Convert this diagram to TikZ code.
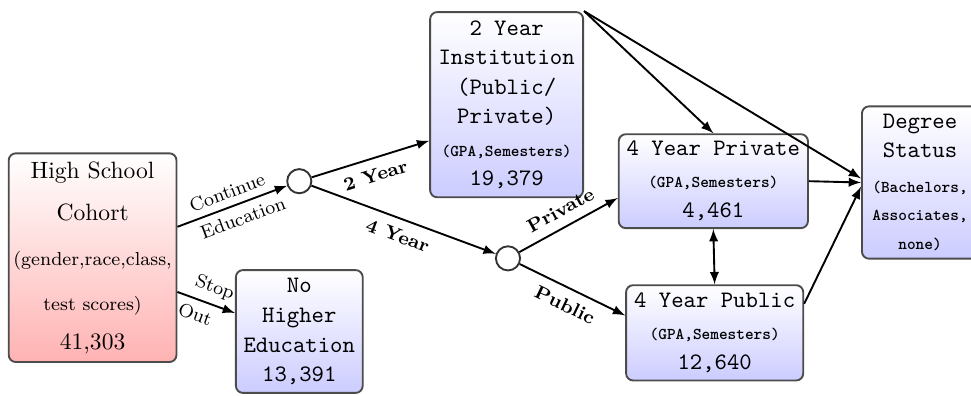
\documentclass[tikz,border=0pt]{standalone}
\usepackage{tikz}
\usetikzlibrary{calc,positioning,arrows}

\tikzset{
  stagebox/.style={draw=black!70, thick, rounded corners=3pt, top color=white,
    bottom color=blue!20, align=center, font=\ttfamily, inner sep=2pt},
  cohortbox/.style={stagebox, bottom color=red!30, font=\rmfamily},
  choice/.style={circle, draw=black!80, thick, fill=white, minimum size=0.36cm, inner sep=0pt},
  flow/.style={thick, -latex},
  lbl/.style={font=\footnotesize, sloped, inner sep=3pt},
  blbl/.style={font=\footnotesize\bfseries, sloped, inner sep=4pt},
}
\newcommand{\smalltt}[1]{{\scriptsize\bfseries #1}}

\begin{document}
\begin{tikzpicture}
		\useasboundingbox (0,0) rectangle (14.47,5.89);
		% stages
		\node[cohortbox, minimum width=2.40cm, minimum height=3.11cm] (hs) at (1.38,2.05)
			{High School\\[6pt] Cohort\\[7pt] {\footnotesize (gender,race,class,}\\[7pt]
			 {\footnotesize test scores)}\\[4.5pt] 41,303};
		\node[choice] (c1) at (4.46,3.19) {};
		\node[choice] (c2) at (7.57,2.04) {};
		\node[stagebox, minimum width=2.28cm, minimum height=2.76cm] (tw) at (7.55,4.33)
			{2 Year\\[0.5pt] Institution\\[0.5pt] (Public/\\[0.5pt] Private)\\[2pt]
			 \smalltt{(GPA,Semesters)}\\ 19,379};
		\node[stagebox, minimum width=1.89cm, minimum height=1.83cm] (nh) at (4.46,0.95)
			{No\\[0.7pt] Higher\\[0.7pt] Education\\[0.7pt] 13,391};
		\node[stagebox, minimum width=2.82cm, minimum height=1.40cm] (pv) at (10.63,3.19)
			{4 Year Private\\[1.5pt] \smalltt{(GPA,Semesters)}\\[0.7pt] 4,461};
		\node[stagebox, minimum width=2.64cm, minimum height=1.42cm] (pb) at (10.65,0.93)
			{4 Year Public\\[1.5pt] \smalltt{(GPA,Semesters)}\\[0.7pt] 12,640};
		\node[stagebox, minimum width=1.73cm, minimum height=2.27cm] (ds) at (13.71,3.17)
			{Degree\\ Status\\[3pt] \smalltt{(Bachelors,}\\ \smalltt{Associates,}\\ \smalltt{none)}};
		% choices
		\draw[flow] (hs.20) -- (c1) node[lbl, midway, above] {Continue}
			node[lbl, pos=0.55, below] {Education};
		\draw[flow] (hs.-22) -- (nh.164) node[lbl, pos=0.55, above] {Stop}
			node[lbl, pos=0.4, below] {Out};
		\draw[flow] (c1) -- (tw.205) node[blbl, midway, below] {2 Year};
		\draw[flow] (c1) -- (c2) node[blbl, midway, below] {4 Year};
		\draw[flow] (c2) -- (pv.190) node[blbl, midway, above] {Private};
		\draw[flow] (c2) -- (pb.169) node[blbl, midway, below] {Public};
		% transfers and outcomes
		\draw[flow] (tw.north east) -- (pv.north);
		\draw[flow] (tw.north east) -- (ds.176);
		\draw[flow] (pv.east) -- (ds.west);
		\draw[flow] (pb.18) -- (ds.184);
		\draw[thick, latex-latex] (pv.south) -- (pb.north);
\end{tikzpicture}
\end{document}
